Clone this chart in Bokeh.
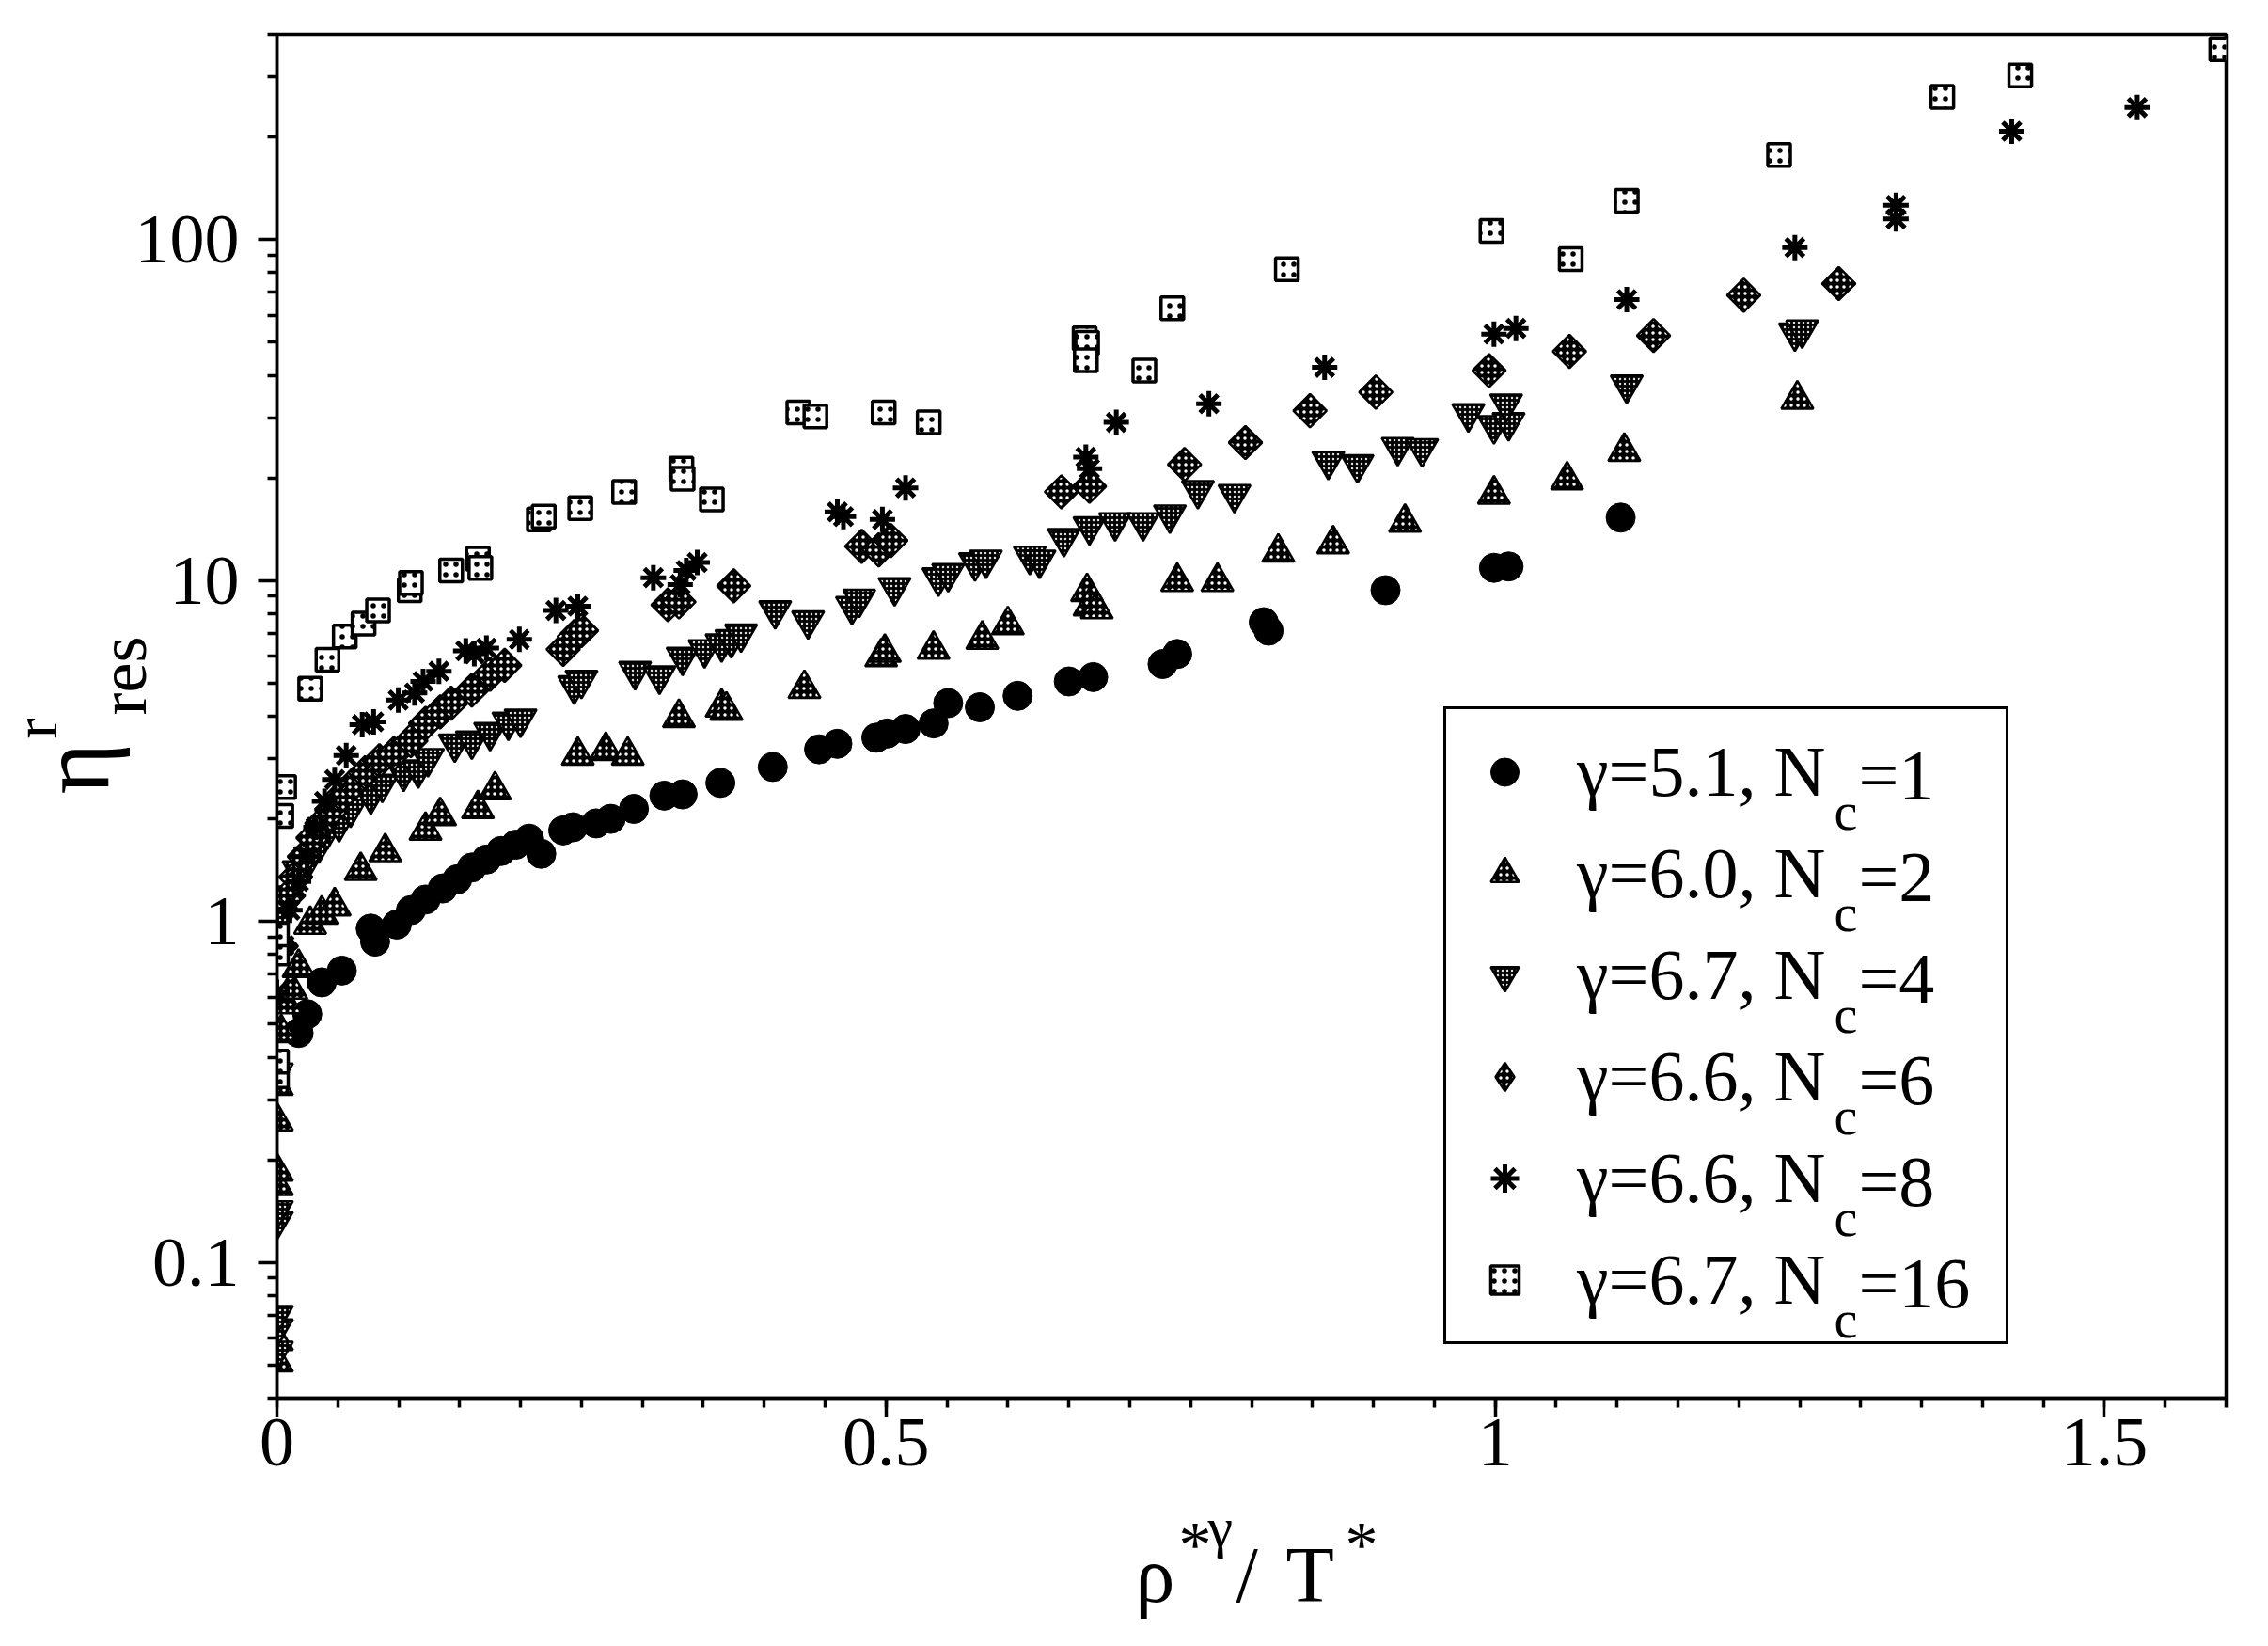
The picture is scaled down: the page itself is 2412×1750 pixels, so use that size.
import numpy as np
from bokeh.plotting import figure
from bokeh.layouts import column, row
from bokeh.models import (Range1d, FixedTicker, CustomJSTickFormatter, Label,
                          Legend, LegendItem)
from bokeh.embed import file_html
from bokeh.resources import INLINE

FONT = "Liberation Serif"

# ---------------- data ----------------
# gamma=5.1, Nc=1 (filled circles)
x1 = [0.0178, 0.0249, 0.0368, 0.0533, 0.077, 0.0806, 0.0984, 0.110, 0.122, 0.136,
      0.148, 0.160, 0.172, 0.184, 0.196, 0.207, 0.217, 0.235, 0.243, 0.262,
      0.274, 0.293, 0.318, 0.333, 0.364, 0.407, 0.445, 0.460, 0.492, 0.501,
      0.516, 0.539, 0.551, 0.577, 0.608, 0.650, 0.670, 0.727, 0.739, 0.810,
      0.814, 0.910, 0.999, 1.011, 1.103]
y1 = [0.471, 0.535, 0.663, 0.718, 0.953, 0.873, 0.98, 1.08, 1.16, 1.25,
      1.33, 1.44, 1.52, 1.61, 1.68, 1.75, 1.58, 1.85, 1.89, 1.94,
      2.00, 2.14, 2.34, 2.36, 2.55, 2.84, 3.20, 3.32, 3.46, 3.56,
      3.67, 3.81, 4.37, 4.25, 4.59, 5.06, 5.21, 5.69, 6.09, 7.55,
      7.13, 9.37, 10.9, 11.0, 15.3]

# gamma=6.0, Nc=2 (triangles)
x2 = [0, 0, 0, 0, 0, 0, 0.0036, 0.0071, 0.0119, 0.0178, 0.0273, 0.0368, 0.0474,
      0.0688, 0.0889, 0.122, 0.134, 0.165, 0.179, 0.247, 0.270, 0.288, 0.330,
      0.365, 0.369, 0.433, 0.496, 0.499, 0.539, 0.579, 0.600, 0.665, 0.667,
      0.673, 0.739, 0.772, 0.822, 0.867, 0.926, 0.999, 1.059, 1.106, 1.248]
y2 = [0.051, 0.059, 0.168, 0.185, 0.26, 0.33, 0.471, 0.573, 0.632, 0.732, 0.98, 1.05, 1.11,
      1.41, 1.60, 1.85, 2.04, 2.14, 2.43, 3.07, 3.17, 3.07, 3.96,
      4.25, 4.16, 4.82, 5.97, 6.15, 6.28, 6.72, 7.41, 9.27, 8.41,
      8.25, 9.93, 9.93, 12.1, 12.8, 14.8, 17.9, 19.7, 23.9, 34.0]

# gamma=6.7, Nc=4 (inverted triangles)
x3 = [0, 0, 0, 0, 0, 0, 0.0036, 0.0095, 0.0178, 0.0273, 0.0344, 0.0415, 0.051, 0.0605,
      0.0771, 0.0865, 0.104, 0.116, 0.124, 0.146, 0.160, 0.175, 0.190, 0.200,
      0.244, 0.250, 0.294, 0.314, 0.333, 0.351, 0.365, 0.373, 0.381, 0.409,
      0.436, 0.472, 0.478, 0.507, 0.543, 0.551, 0.573, 0.582, 0.618, 0.626,
      0.646, 0.667, 0.688, 0.711, 0.733, 0.756, 0.786, 0.863, 0.887, 0.920,
      0.940, 0.978, 0.999, 1.011, 1.009, 1.108, 1.246, 1.252]
y3 = [0.055, 0.064, 0.070, 0.132, 0.142, 0.36, 1.03, 1.19, 1.41, 1.55, 1.68, 1.85, 1.94, 2.14,
      2.34, 2.53, 2.73, 2.79, 3.01, 3.32, 3.39, 3.59, 3.85, 3.93,
      4.92, 5.11, 5.42, 5.26, 5.97, 6.28, 6.53, 6.72, 6.98, 8.17,
      7.63, 8.41, 8.83, 9.55, 10.2, 10.5, 11.3, 11.5, 11.8, 11.5,
      13.3, 14.4, 14.8, 14.8, 15.6, 18.4, 17.9, 22.4, 21.9, 24.6,
      24.4, 30.9, 28.5, 29.1, 33.0, 37.5, 53.3, 54.4]

# gamma=6.6, Nc=6 (diamonds)
x4 = [0.0036, 0.0095, 0.0154, 0.0225, 0.0296, 0.0368, 0.045, 0.0533, 0.0628, 0.0723,
      0.0842, 0.096, 0.110, 0.122, 0.134, 0.143, 0.160, 0.175, 0.187, 0.235,
      0.244, 0.250, 0.321, 0.330, 0.375, 0.480, 0.494, 0.504, 0.644, 0.667,
      0.745, 0.795, 0.848, 0.902, 0.995, 1.061, 1.130, 1.204, 1.282]
y4 = [0.847, 1.19, 1.35, 1.55, 1.76, 1.94, 2.12, 2.34, 2.53, 2.73,
      2.96, 3.11, 3.39, 3.81, 4.12, 4.37, 4.77, 5.31, 5.64, 6.28,
      6.85, 7.13, 8.49, 8.66, 9.65, 12.6, 12.3, 13.1, 18.2, 18.9,
      21.9, 25.4, 31.5, 35.7, 41.3, 47.0, 52.3, 68.7, 74.3]

# gamma=6.6, Nc=8 (asterisks)
x5 = [0, 0.0059, 0.0107, 0.0178, 0.0249, 0.032, 0.0391, 0.0474, 0.0569, 0.070,
      0.0794, 0.0996, 0.113, 0.120, 0.133, 0.155, 0.162, 0.172, 0.199, 0.229,
      0.247, 0.309, 0.331, 0.336, 0.345, 0.460, 0.465, 0.497, 0.516, 0.664,
      0.667, 0.689, 0.765, 0.860, 0.999, 1.017, 1.108, 1.246, 1.329, 1.329,
      1.424, 1.527]
y5 = [0.62, 0.85, 1.08, 1.31, 1.55, 1.89, 2.25, 2.61, 3.07, 3.78,
      3.85, 4.46, 4.68, 5.06, 5.42, 6.22, 6.10, 6.34, 6.72, 8.17,
      8.41, 10.2, 9.74, 10.7, 11.3, 15.9, 15.4, 15.1, 18.7, 23.0,
      21.3, 29.1, 33.0, 42.2, 52.8, 54.9, 66.7, 94.8, 126, 115,
      208, 244]

# gamma=6.7, Nc=16 (open squares)
x6 = [0, 0, 0, 0, 0.0036, 0.0059, 0.0273, 0.0415, 0.0557, 0.0711, 0.083, 0.109,
      0.110, 0.143, 0.165, 0.167, 0.215, 0.219, 0.249, 0.285, 0.332, 0.333,
      0.357, 0.428, 0.442, 0.498, 0.535, 0.663, 0.665, 0.664, 0.712, 0.735,
      0.829, 0.997, 1.062, 1.108, 1.233, 1.367, 1.431, 1.596]
y6 = [0.352, 0.388, 0.806, 0.916, 2.04, 2.48, 4.82, 5.86, 6.85, 7.48, 8.17, 9.37,
      9.84, 10.7, 11.6, 10.9, 15.1, 15.4, 16.3, 18.2, 21.3, 19.9,
      17.3, 31.1, 30.3, 31.1, 29.1, 51.3, 49.8, 44.3, 41.3, 62.9,
      81.9, 106, 87.7, 130, 177, 262, 303, 362]

legend_main = ["γ=5.1, N", "γ=6.0, N", "γ=6.7, N", "γ=6.6, N", "γ=6.6, N", "γ=6.7, N"]
legend_tail = ["=1", "=2", "=4", "=6", "=8", "=16"]

x_major = [0, 0.5, 1, 1.5]
x_minor = [round(0.05 * i, 2) for i in range(33)]
y_major = [0.1, 1, 10, 100]
y_labels = ["0.1", "1", "10", "100"]
y_minor = [round(m * 10.0 ** e, 6) for e in range(-2, 3) for m in range(2, 10)
           if 0.04 <= m * 10.0 ** e <= 400]

# ---------------- geometry ----------------
LW = 270                 # left strip: y tick labels + y title
MW = 2396 - LW           # main figure
BT, BB = 36, 104         # top / bottom borders of the main figure
MH = BT + 1450 + BB      # main figure height (frame 1450 px)
BH = 1734 - MH           # bottom strip: x title
MID = 0.3375             # 'middle' line above the baseline, in em
TICK_FS = 74

# ---------------- main figure ----------------
p = figure(width=MW, height=MH, y_axis_type="log",
           x_range=Range1d(0, 1.6), y_range=Range1d(0.04, 400),
           output_backend="svg", toolbar_location=None,
           min_border_left=24, min_border_right=29,
           min_border_top=BT, min_border_bottom=BB)
p.background_fill_color = "white"
p.border_fill_color = "white"
p.outline_line_color = "black"
p.outline_line_width = 3.5
p.xgrid.visible = False
p.ygrid.visible = False

p.xaxis.ticker = FixedTicker(ticks=x_major, minor_ticks=x_minor)
p.yaxis.ticker = FixedTicker(ticks=y_major, minor_ticks=y_minor)
for ax in (p.xaxis[0], p.yaxis[0]):
    ax.axis_line_width = 3.5
    ax.axis_line_color = "black"
    ax.major_tick_line_width = 3.5
    ax.minor_tick_line_width = 3.5
    ax.major_tick_line_color = "black"
    ax.minor_tick_line_color = "black"
    ax.major_tick_in = 0
    ax.major_tick_out = 20
    ax.minor_tick_in = 0
    ax.minor_tick_out = 10
    ax.major_label_text_font = FONT
    ax.major_label_text_font_size = f"{TICK_FS}px"
    ax.major_label_text_color = "black"
p.xaxis.formatter = CustomJSTickFormatter(code="return tick.toString();")
p.xaxis.major_label_standoff = 2
# the y tick labels are written in the left strip, next to the y title
p.yaxis.formatter = CustomJSTickFormatter(code="return '';")
p.yaxis.major_label_standoff = 0

# ---------------- data marks ----------------
r1 = p.scatter(x1, y1, marker="circle", size=31, fill_color="black", line_color="black")
r2 = p.scatter(x2, y2, marker="triangle", size=34, fill_color="black", line_color="black",
               line_width=2.5, hatch_pattern="dot", hatch_color="white",
               hatch_scale=7, hatch_weight=2)
r3 = p.scatter(x3, y3, marker="inverted_triangle", size=34, fill_color="black",
               line_color="black", line_width=2.5, hatch_pattern="dot",
               hatch_color="#dddddd", hatch_scale=5, hatch_weight=2)
r4 = p.scatter(x4, y4, marker="square", angle=np.pi / 4, size=25, fill_color="black",
               line_color="black", line_width=2.5, hatch_pattern="dot",
               hatch_color="white", hatch_scale=7, hatch_weight=2)
r5 = p.scatter(x5, y5, marker="asterisk", size=27, line_color="black", line_width=5)
r6 = p.scatter(x6, y6, marker="square", size=24, fill_color="white", line_color="black",
               line_width=3.5, hatch_pattern="dot", hatch_color="black",
               hatch_scale=11, hatch_weight=2.5)
# legend swatch for the diamonds (the legend does not rotate markers); it sits,
# 1 px wide, on the first diamond of the series
r4_key = p.scatter(x4[:1], y4[:1], marker="diamond", size=1, fill_color="black",
                   line_color="black", line_width=2.5, hatch_pattern="dot",
                   hatch_color="white", hatch_scale=7, hatch_weight=2)
legend_renderers = [r1, r2, r3, r4_key, r5, r6]

# ---------------- legend ----------------
LEG_X, LEG_Y, PAD, ROW = 1241, 57, 12, 108
GW, STAND, LABW = 100, 27, 444
legend = Legend(items=[LegendItem(label=t, renderers=[r]) for t, r in zip(legend_main, legend_renderers)],
                location=(LEG_X, LEG_Y), orientation="vertical",
                border_line_color="black", border_line_width=3.5, border_line_alpha=1,
                background_fill_color="white", background_fill_alpha=0,
                padding=PAD, margin=0, spacing=0, glyph_width=GW, glyph_height=75,
                label_height=ROW, label_width=LABW, label_standoff=STAND,
                label_text_font=FONT, label_text_font_size="76px",
                label_text_baseline="middle", label_text_color="black")
p.add_layout(legend)

text_x0 = LEG_X + PAD + GW + STAND
main_w = 265
n = len(legend_main)
for i in range(n):
    row_y = LEG_Y + PAD + (n - 1 - i) * ROW + ROW / 2
    p.add_layout(Label(x=text_x0 + main_w + 11, y=row_y - 39, x_units="screen", y_units="screen",
                       text="c", text_font=FONT, text_font_size="56px",
                       text_baseline="middle", text_align="left", text_color="black"))
    p.add_layout(Label(x=text_x0 + main_w + 37, y=row_y, x_units="screen", y_units="screen",
                       text=legend_tail[i], text_font=FONT, text_font_size="76px",
                       text_baseline="middle", text_align="left", text_color="black"))


# ---------------- strips ----------------
def put(f, txt, x, base, size, angle=0.0):
    # x, base: start of the text and its baseline, in px from the strip frame's
    # bottom-left corner; the label itself is anchored on its middle line
    if angle == 0.0:
        xm, ym = x, base + MID * size
    else:  # reads upwards: the middle line lies left of the baseline
        xm, ym = base - MID * size, x
    f.add_layout(Label(x=xm, y=ym, x_units="screen", y_units="screen", text=txt,
                       text_font=FONT, text_font_size=f"{size}px", angle=angle,
                       text_baseline="middle", text_align="left", text_color="black"))


# left strip, sharing the y scale of the main figure (frame spans page y 44..1494)
L = figure(width=LW, height=MH, y_axis_type="log", y_range=p.y_range,
           x_range=Range1d(0, LW), output_backend="svg", toolbar_location=None,
           min_border_left=0, min_border_right=0, min_border_top=BT, min_border_bottom=BB,
           x_axis_location=None, y_axis_location=None)
L.outline_line_color = None
L.background_fill_color = "white"
L.border_fill_color = "white"
L.grid.visible = False

for v, t in zip(y_major, y_labels):
    L.add_layout(Label(x=LW - 16, y=v, x_units="screen", y_units="data", text=t,
                       text_font=FONT, text_font_size=f"{TICK_FS}px",
                       text_align="right", text_baseline="middle", text_color="black"))

# y title: eta^r_res (reads upwards)
put(L, "η", 1494 - 852, 114, 105, np.pi / 2)
put(L, "r", 1494 - 793, 59, 66, np.pi / 2)
put(L, "res", 1494 - 768, 155, 72, np.pi / 2)

# bottom strip: x title rho*^gamma / T*
B = figure(width=LW + MW, height=BH, output_backend="svg", toolbar_location=None,
           min_border=0, x_axis_location=None, y_axis_location=None)
B.outline_line_color = None
B.background_fill_color = "white"
B.border_fill_color = "white"
B.grid.visible = False
put(B, "ρ", 1207, 32, 84)
put(B, "*", 1253, 68, 70)
put(B, "γ", 1284, 90, 60)
put(B, "/", 1314, 32, 84)
put(B, "T", 1367, 32, 84)
put(B, "*", 1430, 68, 70)

layout = column(row(L, p, spacing=0), B, spacing=0)
open("out.html", "w").write(file_html(layout, INLINE))
